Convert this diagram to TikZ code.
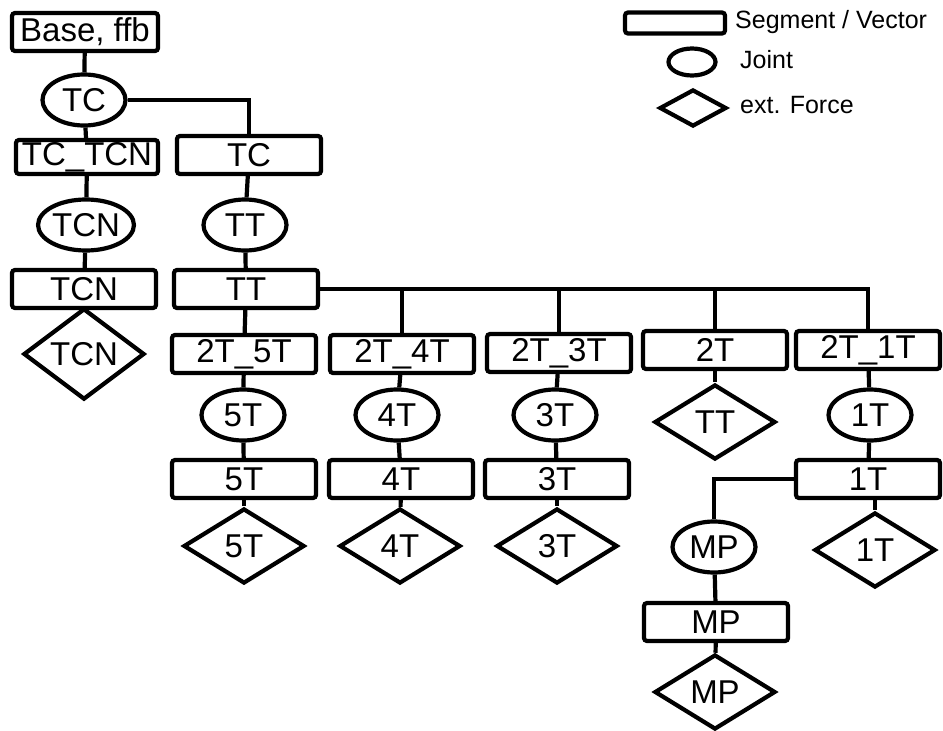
\documentclass[tikz,border=0pt]{standalone}
\usepackage{fontspec}
\setmainfont{Liberation Sans}
\usetikzlibrary{shapes.geometric}
\begin{document}
\begin{tikzpicture}[x=1pt,y=-1pt,
  every node/.style={font=\fontsize{33}{36}\selectfont, inner sep=0pt},
  seg/.style={draw, rectangle, rounded corners=3pt, line width=4.2pt, minimum width=144pt, minimum height=38pt},
  joint/.style={draw, ellipse, line width=4.2pt, minimum width=83pt, minimum height=51pt},
  force/.style={draw, diamond, line width=4.2pt, minimum width=121pt, minimum height=75pt},
  conn/.style={line width=4.2pt},
  legtext/.style={font=\fontsize{25}{28}\selectfont, anchor=west}]
\useasboundingbox[fill=white] (0,0) rectangle (943,731);

% left branch
\node[seg, minimum width=146pt] (base) at (85,32) {Base, ffb};
\node[joint] (tcj) at (84,100) {TC};
\node[seg, minimum width=142pt, minimum height=34pt] (tctcn) at (87,157) {TC\_TCN};
\node[seg] (tcr) at (249,155) {TC};
\node[joint] (tcnj) at (86,225) {TCN};
\node[joint] (ttj) at (245,225) {TT};
\node[seg] (tcnr) at (84,289) {TCN};
\node[seg] (ttr) at (246,289) {TT};
\node[force] (tcnf) at (84,354) {TCN};

% second-level segments
\node[seg] (s5) at (244,354) {2T\_5T};
\node[seg] (s4) at (402,354) {2T\_4T};
\node[seg] (s3) at (559,353) {2T\_3T};
\node[seg] (s2) at (715,350) {2T};
\node[seg] (s1) at (868,350) {2T\_1T};

% joints
\node[joint] (j5) at (243,415) {5T};
\node[joint] (j4) at (397,415) {4T};
\node[joint] (j3) at (555,415) {3T};
\node[force] (ftt) at (715,422) {TT};
\node[joint] (j1) at (870,415) {1T};

% segments
\node[seg] (r5) at (244,479) {5T};
\node[seg] (r4) at (401,479) {4T};
\node[seg] (r3) at (557,479) {3T};
\node[seg] (r1) at (868,479) {1T};

% forces
\node[force] (f5) at (244,546) {5T};
\node[force] (f4) at (400,546) {4T};
\node[force] (f3) at (557,546) {3T};
\node[force] (f1) at (875,550) {1T};

% MP
\node[joint] (mpj) at (714,547) {MP};
\node[seg] (mpr) at (716,622) {MP};
\node[force] (mpf) at (715,692) {MP};

% connectors
\draw[conn] (base) -- (tcj);
\draw[conn] (tcj) -- (tctcn);
\draw[conn] (tcj.east) -| (tcr.north);
\draw[conn] (tctcn) -- (tcnj);
\draw[conn] (tcnj) -- (tcnr);
\draw[conn] (tcnr) -- (tcnf);
\draw[conn] (tcr) -- (ttj);
\draw[conn] (ttj) -- (ttr);
\draw[conn] (ttr) -- (s5);
\draw[conn] (ttr.east) -| (s1.north);
\draw[conn] (s4.north) -- (s4.north |- ttr.east);
\draw[conn] (s3.north) -- (s3.north |- ttr.east);
\draw[conn] (s2.north) -- (s2.north |- ttr.east);
\draw[conn] (s5) -- (j5);
\draw[conn] (s4) -- (j4);
\draw[conn] (s3) -- (j3);
\draw[conn] (s2) -- (ftt);
\draw[conn] (s1) -- (j1);
\draw[conn] (j5) -- (r5);
\draw[conn] (j4) -- (r4);
\draw[conn] (j3) -- (r3);
\draw[conn] (j1) -- (r1);
\draw[conn] (r5) -- (f5);
\draw[conn] (r4) -- (f4);
\draw[conn] (r3) -- (f3);
\draw[conn] (r1.south -| f1.north) -- (f1.north);
\draw[conn] (r1.west) -| (mpj.north);
\draw[conn] (mpj) -- (mpr);
\draw[conn] (mpr) -- (mpf);

% legend
\node[seg, minimum width=100pt, minimum height=21pt] (lseg) at (675,23) {};
\node[legtext] (lsegt) at (735,22) {Segment / Vector};
\node[joint, minimum width=47pt, minimum height=27pt] (ljoint) at (692,62) {};
\node[legtext] (ljointt) at (740,60) {Joint};
\node[force, minimum width=67pt, minimum height=37pt] (lforce) at (693,108) {};
\node[legtext] (lforcet) at (740,105) {ext. Force};
\end{tikzpicture}
\end{document}
